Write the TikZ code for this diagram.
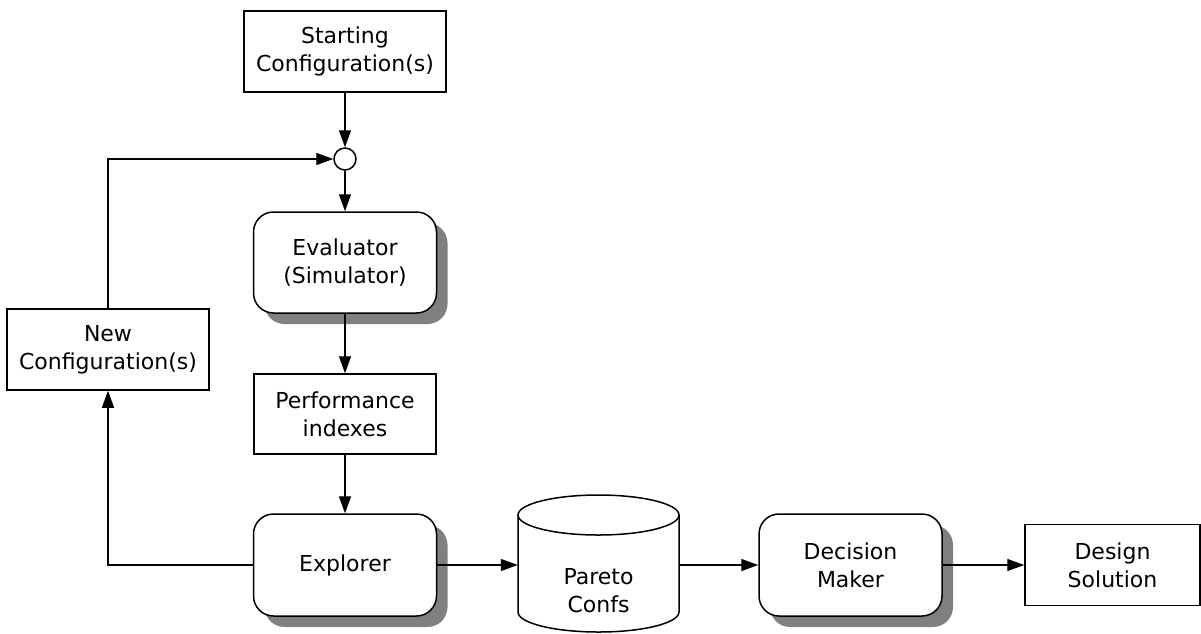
\documentclass[tikz,border=0pt]{standalone}
\usepackage{fontspec}
\setmainfont{DejaVu Sans}
\usetikzlibrary{arrows.meta,shadows}
\tikzset{
  box/.style={draw,line width=1.5pt,align=center,font=\fontsize{22}{28}\selectfont,inner sep=0pt},
  roundbox/.style={box,rounded corners=20pt,fill=white,
    drop shadow={shadow xshift=11pt,shadow yshift=-11pt,fill=black!50,opacity=1}},
  conn/.style={line width=1.4pt,-{Triangle[length=17pt,width=12pt]}}
}
\begin{document}
\begin{tikzpicture}[x=1pt,y=-1pt]
    \useasboundingbox (0,0) rectangle (1201,633);
    \node[box,minimum width=202pt,minimum height=81pt] (start) at (345,51.5) {Starting\\Configuration(s)};
    \node[draw,circle,line width=1.5pt,minimum size=22pt,inner sep=0pt] (junc) at (345,159) {};
    \node[roundbox,minimum width=183pt,minimum height=101pt] (eval) at (345,262.5) {Evaluator\\(Simulator)};
    \node[box,minimum width=182pt,minimum height=80pt] (perf) at (345,414) {Performance\\indexes};
    \node[roundbox,minimum width=183pt,minimum height=102pt] (explorer) at (345,565) {Explorer};
    \node[box,minimum width=202pt,minimum height=81pt] (newconf) at (108,349.5) {New\\Configuration(s)};
    \node[minimum width=161pt,minimum height=100pt,inner sep=0pt] (pareto) at (598.5,565) {};
    \node[align=center,font=\fontsize{22}{28}\selectfont] (paretotext) at (598.5,591) {Pareto\\Confs};
    \node[roundbox,minimum width=183pt,minimum height=102pt] (decision) at (850.5,565) {Decision\\Maker};
    \node[box,minimum width=175pt,minimum height=81pt] (design) at (1112.5,565) {Design\\Solution};
    % cylinder
    \draw[line width=1.5pt] (598.5,515) ellipse[x radius=80.5,y radius=20];
    \draw[line width=1.5pt] (518,515) -- (518,612) arc[start angle=180,end angle=0,x radius=80.5,y radius=20] -- (679,515);
    % connectors
    \draw[conn] (start.south) -- (junc.north);
    \draw[conn] (junc.south) -- (eval.north);
    \draw[conn] (eval.south) -- (perf.north);
    \draw[conn] (perf.south) -- (explorer.north);
    \draw[conn] (explorer.west) -| (newconf.south);
    \draw[conn] (newconf.north) |- (junc.west);
    \draw[conn] (explorer.east) -- (pareto.west);
    \draw[conn] (pareto.east) -- (decision.west);
    \draw[conn] (decision.east) -- (design.west);
\end{tikzpicture}
\end{document}
